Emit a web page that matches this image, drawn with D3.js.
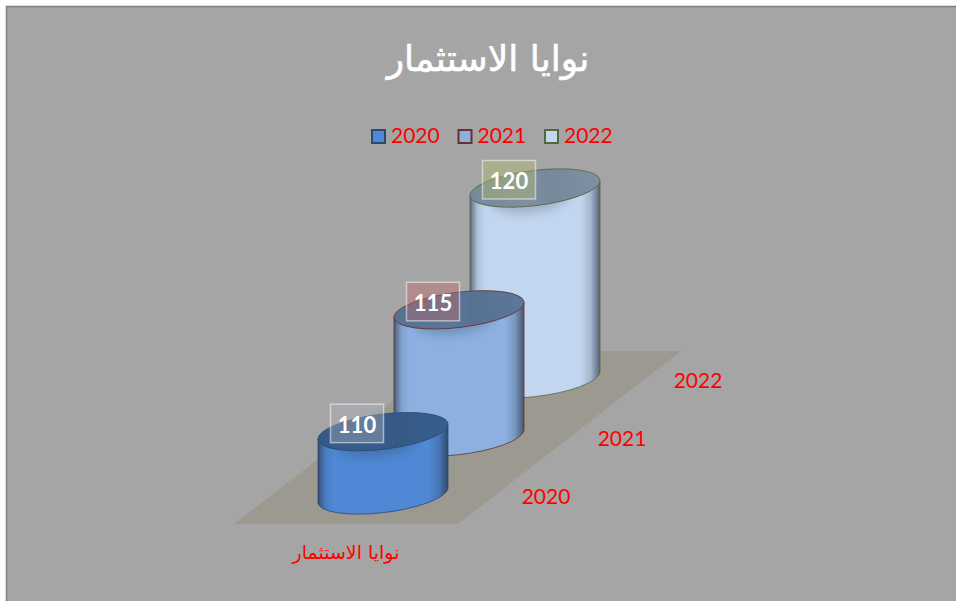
<!DOCTYPE html>
<html><head><meta charset="utf-8">
<script src="https://cdn.jsdelivr.net/npm/d3@7"></script>
<style>html,body{margin:0;padding:0;background:#fff}svg{display:block}text{font-family:Lato,sans-serif}</style>
</head><body><div id="c"></div>
<script>
const categories = ["2020","2021","2022"];
const values = [110,115,120];
const title = "نوايا الاستثمار";
const seriesLabel = "نوايا الاستثمار";
const bodyColors = ["#4f88d4","#8cb1e1","#c3d6f0"];
const edgeColors = ["#2a4a75","#6a2f30","#55683a"];
const capColors = ["#375e8c","#5b7799","#7f90a4"];
const boxColors = ["#aaafb9","#c06666","#b1bb66"];
const boxOffsetX = -26;

const W=956,H=601;
const svg=d3.select("#c").append("svg").attr("width",W).attr("height",H);
const defs=svg.append("defs");
svg.append("rect").attr("width",W).attr("height",H).attr("fill","#fff");
svg.append("rect").attr("x",6.5).attr("y",6.5).attr("width",W).attr("height",H).attr("fill","#a5a5a5").attr("stroke","#808080").attr("stroke-width",1.5);

const xC=d3.scalePoint().domain(categories).range([383,535]);
const yB=d3.scalePoint().domain(categories).range([495.5,379.5]);
const hS=d3.scaleLinear().domain([105,120]).range([0,191.5]);
const rx=65,dy=7,a=65.5,b=17.6,rot=-7;

svg.append("path").attr("d",d3.line()([[234,524],[458,524],[681,351],[458,351]])+"Z").attr("fill","#9c9a90");

const blur=defs.append("filter").attr("id","blur").attr("x","-30%").attr("y","-50%").attr("width","160%").attr("height","200%");
blur.append("feGaussianBlur").attr("stdDeviation",5);

// back to front
categories.map((c,i)=>i).reverse().forEach(i=>{
  const c=categories[i];
  const g=defs.append("linearGradient").attr("id","side"+i);
  const dark=d3.interpolateRgb(bodyColors[i],"#26303f");
  [[0,.7],[.02,.45],[.06,.12],[.12,0],[.85,0],[.93,.2],[.98,.55],[1,.7]].forEach(s=>
    g.append("stop").attr("offset",s[0]).attr("stop-color",dark(s[1])));
  const t=defs.append("linearGradient").attr("id","cap"+i);
  const dk=d3.interpolateRgb(capColors[i],"#26303f");
  [[0,.08],[.45,0],[.6,.08],[1,0]].forEach(s=>
    t.append("stop").attr("offset",s[0]).attr("stop-color",dk(s[1])));
  const clip=defs.append("clipPath").attr("id","clip"+i);
  const cx=xC(c),by=yB(c),ty=by-hS(values[i]);
  const body=`M${cx-rx},${ty+dy}L${cx-rx},${by+dy}A${a},${b} ${rot} 0 0 ${cx+rx},${by-dy}L${cx+rx},${ty-dy}A${a},${b} ${rot} 0 1 ${cx-rx},${ty+dy}Z`;
  clip.append("path").attr("d",body);
  const G=svg.append("g");
  G.append("path").attr("d",body).attr("fill",`url(#side${i})`).attr("stroke",edgeColors[i]).attr("stroke-width",.8);
  G.append("g").attr("clip-path",`url(#clip${i})`).append("ellipse")
    .attr("cx",cx-6).attr("cy",ty+7).attr("rx",a*.62).attr("ry",b)
    .attr("transform",`rotate(${rot} ${cx} ${ty})`).attr("fill","#26303f").attr("opacity",.22).attr("filter","url(#blur)");
  G.append("ellipse").attr("cx",cx).attr("cy",ty).attr("rx",a).attr("ry",b)
    .attr("transform",`rotate(${rot} ${cx} ${ty})`).attr("fill",`url(#cap${i})`).attr("stroke",edgeColors[i]).attr("stroke-width",.8);
});

categories.forEach((c,i)=>{
  const cx=xC(c)+boxOffsetX, ty=yB(c)-hS(values[i]);
  svg.append("rect").attr("x",cx-26.5).attr("y",ty-27.5).attr("width",53).attr("height",38.5)
    .attr("fill",boxColors[i]).attr("fill-opacity",.4).attr("stroke","#fff").attr("stroke-opacity",.5).attr("stroke-width",1.5);
  svg.append("text").attr("x",cx).attr("y",ty+1).attr("text-anchor","middle")
    .attr("fill","#fff").attr("font-weight",700).attr("font-size",22).text(values[i]);
});

const legendX=d3.scalePoint().domain(categories).range([371,544]);
categories.forEach((c,i)=>{
  const x=legendX(c);
  svg.append("rect").attr("x",x+1).attr("y",130).attr("width",13).attr("height",13)
    .attr("fill",bodyColors[i]).attr("stroke",edgeColors[i]).attr("stroke-width",2);
  svg.append("text").attr("x",x+20).attr("y",143).attr("fill","#f00").attr("font-size",21).text(c);
});

categories.forEach((c,i)=>{
  svg.append("text").attr("x",xC(c)+163).attr("y",yB(c)+8).attr("text-anchor","middle")
    .attr("fill","#f00").attr("font-size",21).text(c);
});

svg.append("text").attr("x",488).attr("y",71).attr("text-anchor","middle").attr("direction","rtl")
  .style("font-family","'DejaVu Sans'").attr("fill","#fff").attr("stroke","#fff").attr("stroke-width",.6).attr("font-size",36).text(title);
svg.append("text").attr("x",346).attr("y",559).attr("text-anchor","middle").attr("direction","rtl")
  .style("font-family","'DejaVu Sans'").attr("fill","#f00").attr("font-size",19).text(seriesLabel);
</script></body></html>
